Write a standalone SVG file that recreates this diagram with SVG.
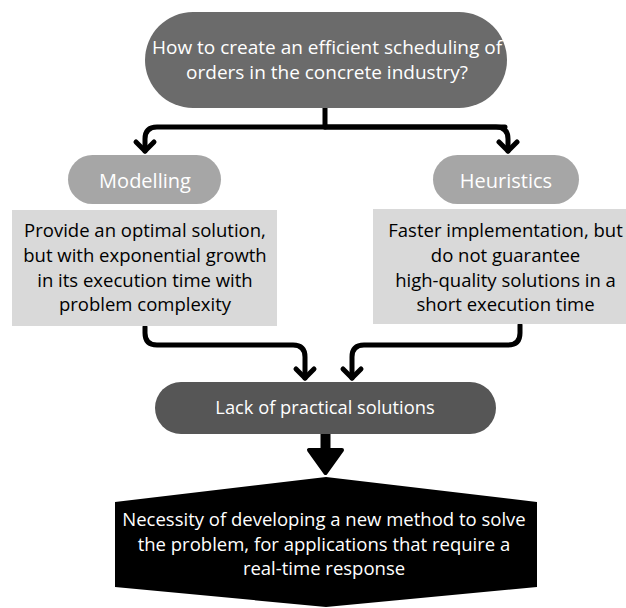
<svg xmlns="http://www.w3.org/2000/svg" width="626" height="608" viewBox="0 0 626 608">
<style>
text{font-family:"Open Sans","Noto Sans","Liberation Sans",sans-serif;text-anchor:middle}
.w{fill:#fff}
.k{fill:#000}
.tq{font-size:19px}
.tb{font-size:18.5px}
.tp{font-size:20px}
.tl{font-size:18.3px}
.c{fill:none;stroke:#000;stroke-width:5;stroke-linecap:round;stroke-linejoin:round}
</style>
<rect width="626" height="608" fill="#fff"/>
<g id="connectors">
<path class="c" d="M325,108 V127"/>
<path class="c" d="M505,127 H157 Q145,127 145,139 V151"/>
<path class="c" d="M136,142 L145,151 L154,142"/>
<path class="c" d="M325,127 H496 Q508,127 508,139 V151"/>
<path class="c" d="M499,142 L508,151 L517,142"/>
<path class="c" d="M145,327 V333 Q145,345 157,345 H293 Q305,345 305,357 V378"/>
<path class="c" d="M296,369 L305,378 L314,369"/>
<path class="c" d="M520,325 V333 Q520,345 508,345 H364 Q352,345 352,357 V378"/>
<path class="c" d="M343,369 L352,378 L361,369"/>
<path d="M325.5,434 V452" stroke="#000" stroke-width="10" fill="none"/>
<path d="M309,450 H342 L325.5,473 Z" fill="#000" stroke="#000" stroke-width="4" stroke-linejoin="round"/>
</g>
<g id="question">
<rect x="145" y="12" width="362" height="96" rx="48" fill="#6b6b6b"/>
<text class="w tq" x="327" y="54">How to create an efficient scheduling of</text>
<text class="w tq" x="327" y="79">orders in the concrete industry?</text>
</g>
<g id="modelling">
<rect x="68" y="155" width="153" height="49" rx="24.5" fill="#a6a6a6"/>
<text class="w tp" x="145" y="188">Modelling</text>
</g>
<g id="modelling-desc">
<rect x="12" y="210" width="265" height="116" fill="#d9d9d9"/>
<text class="k tb" x="145" y="237">Provide an optimal solution,</text>
<text class="k tb" x="145" y="262">but with exponential growth</text>
<text class="k tb" x="145" y="287">in its execution time with</text>
<text class="k tb" x="145" y="311">problem complexity</text>
</g>
<g id="heuristics">
<rect x="433" y="155" width="146" height="49" rx="24.5" fill="#a6a6a6"/>
<text class="w tp" x="506" y="188">Heuristics</text>
</g>
<g id="heuristics-desc">
<rect x="373" y="209" width="253" height="115" fill="#d9d9d9"/>
<text class="k tb" x="505.5" y="237">Faster implementation, but</text>
<text class="k tb" x="505.5" y="262">do not guarantee</text>
<text class="k tb" x="505.5" y="287">high-quality solutions in a</text>
<text class="k tb" x="505.5" y="311">short execution time</text>
</g>
<g id="lack">
<rect x="155" y="382" width="341" height="52" rx="26" fill="#565656"/>
<text class="w tl" x="325" y="414">Lack of practical solutions</text>
</g>
<g id="necessity">
<polygon points="326,477 537,502 537,587 326,607 115,587 115,502" fill="#000"/>
<text class="w tb" x="324" y="526">Necessity of developing a new method to solve</text>
<text class="w tb" x="324" y="551">the problem, for applications that require a</text>
<text class="w tb" x="324" y="575">real-time response</text>
</g>
</svg>
